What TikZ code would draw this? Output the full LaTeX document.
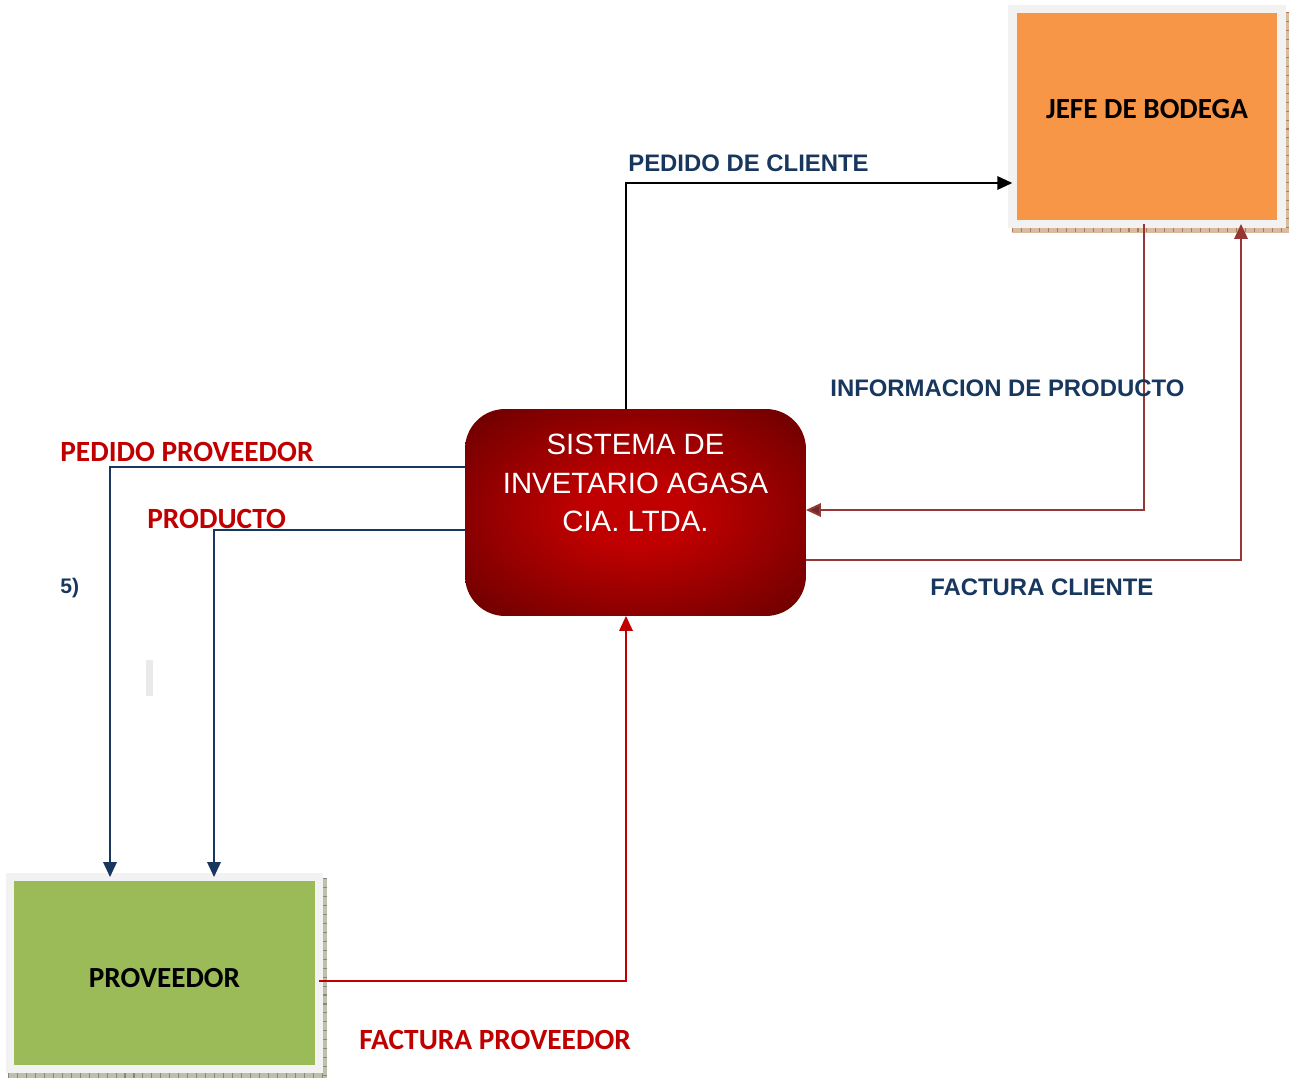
\documentclass[tikz,border=0pt]{standalone}
\usepackage{fontspec}
\usepackage{tikz}
\usepackage{xcolor}
\usetikzlibrary{arrows.meta}
\newfontfamily\arialfont{Liberation Sans}
\newfontfamily\califont{Carlito}
\definecolor{navy}{HTML}{17375E}
\definecolor{rojo}{HTML}{C00000}
\definecolor{vino}{HTML}{953735}
\definecolor{vinoosc}{HTML}{6E2A28}
\definecolor{naranja}{HTML}{F79646}
\definecolor{verde}{HTML}{9BBB59}
\definecolor{borde}{HTML}{F2F2F2}
\definecolor{oscuro}{HTML}{5A0000}
\definecolor{sombraN}{HTML}{D9BBA0}
\definecolor{rayaN}{HTML}{B07A5A}
\definecolor{sombraV}{HTML}{BCC0AC}
\definecolor{rayaV}{HTML}{868A74}
\pgfdeclareradialshading{sisfondo}{\pgfpoint{0bp}{0bp}}{color(0bp)=(rojo); color(8bp)=(rojo); color(40bp)=(oscuro); color(50bp)=(oscuro)}

\begin{document}
\begin{tikzpicture}[x=0.02cm, y=-0.02cm,
  caja/.style={draw=borde, line width=0.17cm, inner sep=0pt, outer sep=0pt},
  cajatxt/.style={font=\califont\bfseries\fontsize{16.6}{20}\selectfont},
  flecha/.style={line width=1.1pt, -{Triangle[length=0.3cm,width=0.27cm]}},
  etiq/.style={anchor=west, inner sep=0pt, text=navy,
    font=\arialfont\bfseries\fontsize{13.6}{16}\selectfont},
  etiqroja/.style={anchor=west, inner sep=0pt, text=rojo,
    font=\califont\bfseries\fontsize{16.7}{20}\selectfont}]

  \useasboundingbox (0,0) rectangle (1289,1078);

  % sombras rayadas de las cajas
  \fill[sombraN] (1012,227) rectangle (1289,233);
  \fill[sombraN] (1284,12) rectangle (1289,233);
  \draw[rayaN, line width=0.1cm, dash pattern=on 0.6pt off 4.5pt] (1012,230) -- (1289,230);
  \draw[rayaN, line width=0.08cm, dash pattern=on 0.6pt off 4.5pt] (1287,12) -- (1287,233);
  \fill[sombraV] (8,1072) rectangle (327,1078);
  \fill[sombraV] (322,878) rectangle (327,1078);
  \draw[rayaV, line width=0.1cm, dash pattern=on 0.6pt off 4.5pt] (8,1075) -- (327,1075);
  \draw[rayaV, line width=0.08cm, dash pattern=on 0.6pt off 4.5pt] (324.5,878) -- (324.5,1078);

  % cajas
  \node[caja, fill=naranja, minimum width=5.39cm, minimum height=4.3cm,
    label={[cajatxt, yshift=0.15cm]center:JEFE DE BODEGA}] (jefe) at (1147,116.5) {};
  \node[caja, fill=verde, minimum width=6.18cm, minimum height=3.84cm,
    label={[cajatxt, yshift=-0.1cm]center:PROVEEDOR}] (prov) at (164.5,973) {};
  \node[rounded corners=0.8cm, inner sep=0pt, outer sep=0pt, minimum width=6.82cm, minimum height=4.14cm,
    shading=sisfondo,
    label={[yshift=0.59cm, text=white, align=center,
      font=\arialfont\fontsize{16.7}{22}\selectfont]center:SISTEMA DE\\INVETARIO AGASA\\CIA. LTDA.}] (sis) at (635.5,512.5) {};

  % puntos de quiebre
  \coordinate (pc) at (626,183);
  \coordinate (ip) at (1144,510);
  \coordinate (fc) at (1241,560);
  \coordinate (pp) at (110,467);
  \coordinate (pr) at (214,530);
  \coordinate (fp) at (626,981);

  % flujos
  \draw[flecha, black] (sis.north -| pc) |- (jefe.west |- pc);
  \draw[flecha, vino, -{Triangle[length=0.3cm,width=0.27cm,fill=vinoosc]}] (jefe.south -| ip) |- (sis.east |- ip);
  \draw[flecha, vino] (sis.east |- fc) -| (jefe.south -| fc);
  \draw[flecha, navy] (sis.west |- pp) -| (prov.north -| pp);
  \draw[flecha, navy] (sis.west |- pr) -| (prov.north -| pr);
  \draw[flecha, rojo] (prov.east |- fp) -| (sis.south -| fp);

  % textos
  \node[etiq] (lpc) at (628,163) {PEDIDO DE CLIENTE};
  \node[etiq] (lip) at (830,388) {INFORMACION DE PRODUCTO};
  \node[etiq] (lfc) at (930,587) {FACTURA CLIENTE};
  \node[etiqroja] (lpp) at (60,452) {PEDIDO PROVEEDOR};
  \node[etiqroja] (lpr) at (147,519) {PRODUCTO};
  \node[etiqroja] (lfp) at (359,1040) {FACTURA PROVEEDOR};
  \node[etiq, font=\arialfont\bfseries\fontsize{12}{14}\selectfont] (cinco) at (60,588) {5)};
  \fill[borde!80!gray!60] (146,660) rectangle (153,696);
\end{tikzpicture}
\end{document}
